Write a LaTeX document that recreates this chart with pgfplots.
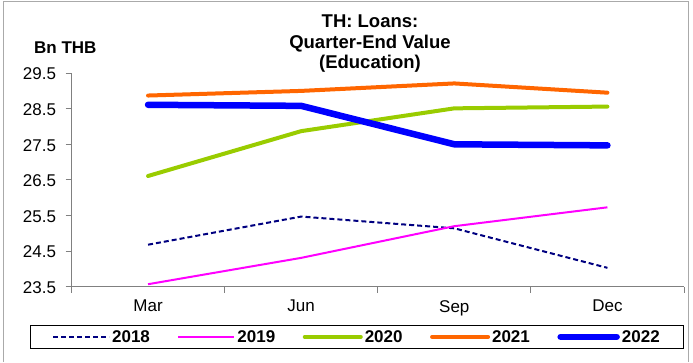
\documentclass[border=0pt]{standalone}
\usepackage{pgfplots}
\pgfplotsset{compat=1.18}
\usepackage{fontspec}
\setmainfont{Liberation Sans}
\definecolor{c18}{RGB}{0,0,128}
\definecolor{c19}{RGB}{255,0,255}
\definecolor{c20}{RGB}{153,204,0}
\definecolor{c21}{RGB}{255,102,0}
\definecolor{c22}{RGB}{0,0,255}
\definecolor{axgray}{RGB}{128,128,128}
\definecolor{framegray}{RGB}{170,170,170}
\begin{document}
\begin{tikzpicture}[x=1pt,y=1pt]
\useasboundingbox (0,0) rectangle (693,362);
\draw[framegray, line width=1.5pt] (3.5,0) -- (3.5,360.5) -- (688.5,360.5) -- (688.5,0);
\begin{axis}[
  at={(71.5pt,75.3pt)}, anchor=south west,
  scale only axis, width=612.5pt, height=213.6pt,
  xmin=-0.5, xmax=3.5, ymin=23.5, ymax=29.5,
  axis x line=bottom, axis y line=left,
  axis line style={-, draw=axgray, line width=1pt},
  tick style={draw=axgray, line width=1pt},
  tick align=outside, major tick length=6pt,
  xtick={-0.5,0.5,1.5,2.5,3.5},
  x tick label as interval,
  xticklabels={Mar,Jun,Sep,Dec},
  xticklabel style={yshift=-4pt},
  ytick={23.5,24.5,25.5,26.5,27.5,28.5,29.5},
  yticklabel style={xshift=-6pt, yshift=-1pt, /pgf/number format/.cd, fixed, fixed zerofill, precision=1},
  /pgf/number format/assume math mode=true,
  tick label style={font=\fontsize{17}{17}\selectfont},
  legend columns=5,
  legend style={at={(axis description cs:0.466,-0.235)}, anchor=center,
    draw=black, line width=0.8pt,
    font=\bfseries\fontsize{17}{17}\selectfont,
    /tikz/every even column/.append style={column sep=25.5pt},
    inner xsep=22pt, inner ysep=3pt},
  legend cell align=left,
  legend image code/.code={\draw[#1] (0pt,0pt) -- (56pt,0pt);},
]
\addplot[c18, line width=2pt, dash pattern=on 5pt off 3pt] coordinates {(0,24.68) (1,25.47) (2,25.14) (3,24.03)};
\addlegendentry{2018}
\addplot[c19, line width=2pt] coordinates {(0,23.57) (1,24.31) (2,25.20) (3,25.73)};
\addlegendentry{2019}
\addplot[c20, line width=4pt, line cap=round, line join=round] coordinates {(0,26.61) (1,27.87) (2,28.51) (3,28.56)};
\addlegendentry{2020}
\addplot[c21, line width=4pt, line cap=round, line join=round] coordinates {(0,28.87) (1,29.00) (2,29.21) (3,28.95)};
\addlegendentry{2021}
\addplot[c22, line width=6.5pt, line cap=round, line join=round] coordinates {(0,28.61) (1,28.58) (2,27.50) (3,27.47)};
\addlegendentry{2022}
\end{axis}
\begin{scope}[every node/.style={font=\bfseries\fontsize{18.5}{20}\selectfont, inner sep=0pt}]
\node[anchor=base] at (370,334) {TH: Loans:};
\node[anchor=base] at (370,313.7) {Quarter-End Value};
\node[anchor=base] at (370,293.7) {(Education)};
\end{scope}
\node[anchor=base west, inner sep=0pt, font=\bfseries\fontsize{17}{17}\selectfont] at (34,308.7) {Bn THB};
\end{tikzpicture}
\end{document}
